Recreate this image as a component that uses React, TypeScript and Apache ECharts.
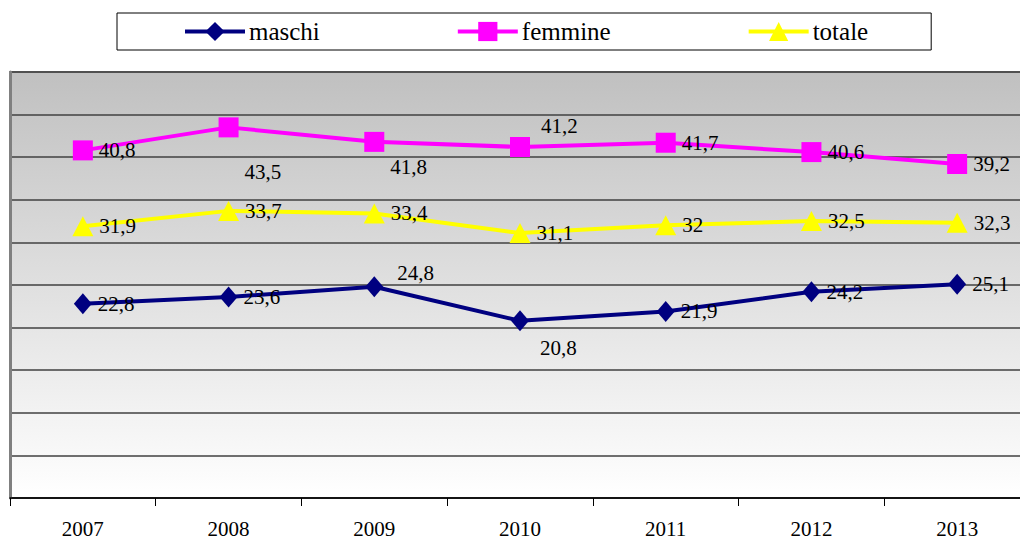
import React, { useEffect, useRef } from "react";
import * as echarts from "echarts";

const years = ["2007", "2008", "2009", "2010", "2011", "2012", "2013"];
const maschi = [22.8, 23.6, 24.8, 20.8, 21.9, 24.2, 25.1];
const femmine = [40.8, 43.5, 41.8, 41.2, 41.7, 40.6, 39.2];
const totale = [31.9, 33.7, 33.4, 31.1, 32, 32.5, 32.3];

// label offsets for points whose label is not placed to the right
const maschiOffsets: Record<number, [number, number]> = { 2: [8, -14], 3: [5, 27] };
const femmineOffsets: Record<number, [number, number]> = { 1: [0, 45], 2: [0, 25], 3: [5, -21] };
const totaleOffsets: Record<number, [number, number]> = {};

const FONT = "Liberation Serif";

function fmt(v: number) {
  return String(v).replace(".", ",");
}

function buildData(vals: number[], offsets: Record<number, [number, number]>) {
  return vals.map((v, i) => {
    const o = offsets[i];
    return o ? { value: v, label: { offset: o } } : { value: v };
  });
}

export default function App() {
  const ref = useRef<HTMLDivElement>(null);
  useEffect(() => {
    document.body.style.margin = "0";
    if (!ref.current) return;
    const chart = echarts.init(ref.current, null, { renderer: "svg" });
    const label = {
      show: true,
      position: "right" as const,
      distance: 6,
      color: "#000",
      fontFamily: FONT,
      fontSize: 21,
      formatter: (p: any) => fmt(p.value),
    };
    chart.setOption({
      animation: false,
      backgroundColor: "#fff",
      textStyle: { fontFamily: FONT },
      legend: {
        left: 117,
        top: 13,
        padding: [6, 63, 6, 66],
        itemGap: 136,
        itemWidth: 60,
        itemHeight: 24,
        borderColor: "#000",
        borderWidth: 1,
        backgroundColor: "#fff",
        lineStyle: { width: 4 },
        textStyle: { fontFamily: FONT, fontSize: 25, color: "#000", padding: [0, 0, 0, -1] },
        data: ["maschi", "femmine", "totale"],
      },
      grid: {
        left: 10,
        width: 1020,
        top: 72,
        height: 426,
        show: true,
        borderColor: "#808080",
        borderWidth: 2,
        backgroundColor: new echarts.graphic.LinearGradient(0, 0, 0, 1, [
          { offset: 0, color: "#c0c0c0" },
          { offset: 1, color: "#ffffff" },
        ]),
      },
      xAxis: {
        type: "category",
        data: years,
        boundaryGap: true,
        axisLine: { lineStyle: { color: "#000", width: 1.5 } },
        axisTick: { show: true, length: 8, lineStyle: { color: "#000" } },
        axisLabel: { fontFamily: FONT, fontSize: 21, color: "#000", margin: 20 },
      },
      yAxis: {
        type: "value",
        min: 0,
        max: 50,
        interval: 5,
        axisLabel: { show: false },
        axisTick: { show: false },
        axisLine: { show: true, lineStyle: { color: "#808080", width: 3 } },
        splitLine: { show: true, lineStyle: { color: "#404040", width: 1.5 } },
      },
      series: [
        {
          name: "maschi",
          type: "line",
          data: buildData(maschi, maschiOffsets),
          symbol: "diamond",
          symbolSize: [18, 21],
          lineStyle: { color: "#000080", width: 4 },
          itemStyle: { color: "#000080" },
          label,
        },
        {
          name: "femmine",
          type: "line",
          data: buildData(femmine, femmineOffsets),
          symbol: "rect",
          symbolSize: 20,
          lineStyle: { color: "#ff00ff", width: 4 },
          itemStyle: { color: "#ff00ff" },
          label,
        },
        {
          name: "totale",
          type: "line",
          data: buildData(totale, totaleOffsets),
          symbol: "triangle",
          symbolSize: [21, 20],
          lineStyle: { color: "#ffff00", width: 4 },
          itemStyle: { color: "#ffff00" },
          label,
        },
      ],
    });
    return () => chart.dispose();
  }, []);
  return (
    <div style={{ width: 1020, height: 540, overflow: "hidden" }}>
      <div ref={ref} style={{ width: 1040, height: 540 }} />
    </div>
  );
}
